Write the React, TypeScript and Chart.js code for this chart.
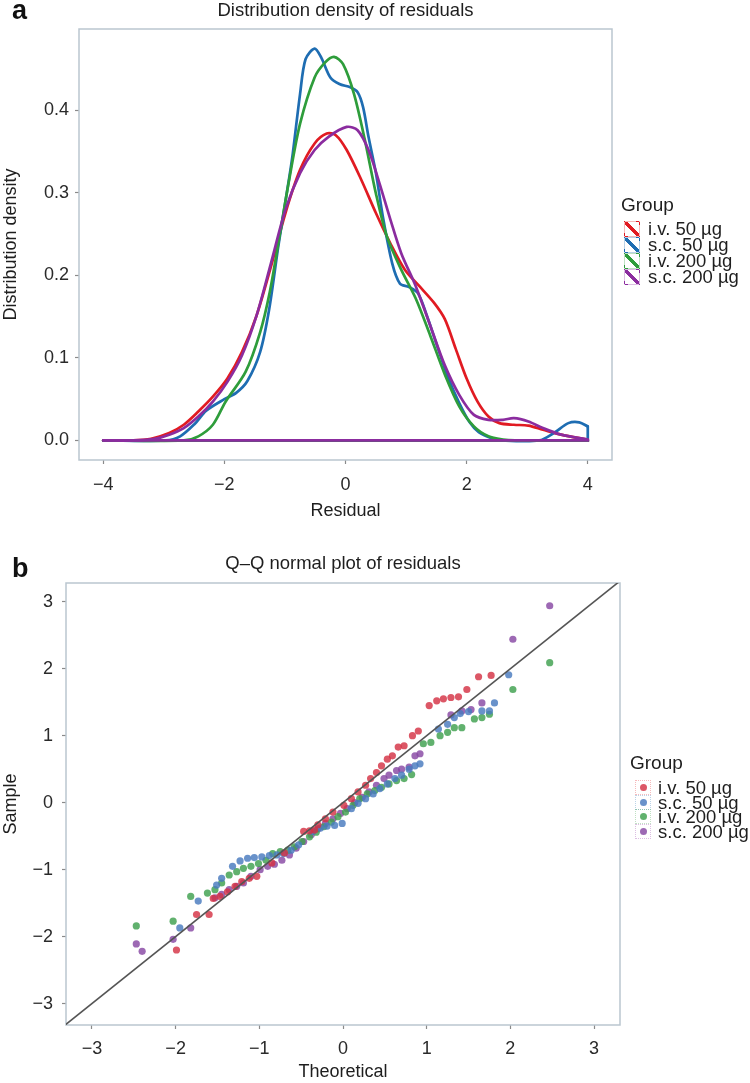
import React, { useEffect, useRef } from 'react';
import { Chart, registerables } from 'chart.js';

Chart.register(...registerables);

// ---------- shared ----------
const groups = ['i.v. 50 µg', 's.c. 50 µg', 'i.v. 200 µg', 's.c. 200 µg'];
const lineColors = ['#E11B22', '#1E6DB2', '#2E9D3B', '#8B2C9F'];
const pointColors = [
  'rgba(212,50,68,0.82)',
  'rgba(72,122,190,0.82)',
  'rgba(62,160,78,0.82)',
  'rgba(136,72,164,0.82)',
];
const FONT = "'Liberation Sans', Arial, Helvetica, sans-serif";

// ---------- panel a: density of residuals ----------
const densityRange = [-4, 4];

const iv50DensX = [-4, -3.5, -3.21, -2.91, -2.67, -2.43, -2.19, -1.95, -1.71, -1.47, -1.23, -0.99, -0.75, -0.51, -0.31, -0.16, 0.02, 0.26, 0.5, 0.74, 0.98, 1.22, 1.46, 1.64, 1.82, 2.0, 2.18, 2.36, 2.54, 2.78, 3.02, 3.26, 3.56, 4.0];
const iv50DensY = [0, 0, 0.002, 0.009, 0.019, 0.035, 0.053, 0.075, 0.107, 0.151, 0.211, 0.276, 0.328, 0.36, 0.372, 0.37, 0.352, 0.316, 0.276, 0.239, 0.207, 0.187, 0.167, 0.147, 0.111, 0.075, 0.047, 0.029, 0.021, 0.019, 0.018, 0.013, 0.007, 0.001];

const sc50DensX = [-4, -2.97, -2.73, -2.49, -2.3, -2.0, -1.8, -1.62, -1.41, -1.26, -1.11, -0.93, -0.87, -0.75, -0.66, -0.51, -0.4, -0.25, -0.1, 0.08, 0.2, 0.29, 0.38, 0.5, 0.62, 0.77, 0.9, 1.05, 1.2, 1.35, 1.52, 1.7, 1.88, 2.05, 2.2, 2.4, 2.6, 3.2, 3.44, 3.68, 3.86, 4.0];
const sc50DensY = [0, 0, 0.005, 0.02, 0.036, 0.05, 0.058, 0.072, 0.107, 0.159, 0.235, 0.318, 0.348, 0.42, 0.462, 0.475, 0.464, 0.44, 0.432, 0.428, 0.422, 0.404, 0.368, 0.325, 0.27, 0.215, 0.19, 0.186, 0.178, 0.15, 0.113, 0.075, 0.045, 0.022, 0.01, 0.003, 0, 0, 0.009, 0.021, 0.022, 0.017];

const iv200DensX = [-4, -2.67, -2.43, -2.19, -1.98, -1.65, -1.41, -1.25, -1.1, -0.93, -0.75, -0.51, -0.34, -0.19, -0.04, 0.14, 0.32, 0.5, 0.68, 0.92, 1.16, 1.4, 1.64, 1.88, 2.12, 2.36, 2.6, 2.8, 4.0];
const iv200DensY = [0, 0, 0.005, 0.019, 0.047, 0.083, 0.131, 0.18, 0.243, 0.316, 0.384, 0.44, 0.458, 0.465, 0.456, 0.42, 0.364, 0.3, 0.248, 0.207, 0.172, 0.127, 0.08, 0.041, 0.017, 0.005, 0.001, 0, 0];

const sc200DensX = [-4, -3.5, -3.15, -2.91, -2.67, -2.43, -2.19, -1.95, -1.71, -1.47, -1.23, -0.99, -0.75, -0.51, -0.28, 0.02, 0.2, 0.38, 0.56, 0.74, 0.92, 1.16, 1.4, 1.64, 1.88, 2.12, 2.36, 2.6, 2.78, 3.02, 3.26, 3.56, 4.0];
const sc200DensY = [0, 0, 0.002, 0.007, 0.015, 0.029, 0.047, 0.071, 0.103, 0.151, 0.215, 0.28, 0.324, 0.352, 0.368, 0.38, 0.376, 0.352, 0.312, 0.268, 0.227, 0.187, 0.139, 0.091, 0.055, 0.031, 0.025, 0.025, 0.027, 0.023, 0.015, 0.007, 0.001];

const aXTicks = [-4, -2, 0, 2, 4];
const aYTicks = [0, 0.1, 0.2, 0.3, 0.4];

// ---------- panel b: Q-Q plot ----------
const iv50QX = [1.77, 1.62, 1.48, 1.38, 1.29, 1.2, 1.12, 1.03, 0.9, 0.83, 0.73, 0.66, 0.59, 0.53, 0.46, 0.4, 0.33, 0.27, 0.18, 0.1, 0.01, -0.12, -0.21, -0.3, -0.34, -0.4, -0.47, -0.7, -0.85, -1.03, -1.12, -1.21, -1.29, -1.38, -1.47, -1.55, -1.6, -1.75, -1.99];
const iv50QY = [1.9, 1.88, 1.69, 1.58, 1.57, 1.55, 1.52, 1.45, 1.07, 1.0, 0.85, 0.83, 0.7, 0.65, 0.55, 0.45, 0.36, 0.26, 0.16, 0.06, -0.04, -0.14, -0.24, -0.33, -0.41, -0.42, -0.43, -0.75, -0.9, -1.1, -1.13, -1.18, -1.25, -1.33, -1.4, -1.43, -1.67, -1.67, -2.2];

const sc50QX = [1.98, 1.81, 1.75, 1.66, 1.5, 1.4, 1.33, 1.25, 1.14, 0.92, 0.86, 0.79, 0.7, 0.62, 0.53, 0.44, 0.36, 0.27, 0.18, 0.1, -0.01, -0.1, -0.19, -0.27, -0.36, -0.53, -0.62, -0.71, -0.79, -0.88, -0.97, -1.06, -1.14, -1.23, -1.32, -1.45, -1.51, -1.73, -1.95];
const sc50QY = [1.91, 1.49, 1.37, 1.37, 1.36, 1.33, 1.27, 1.17, 1.1, 0.58, 0.55, 0.5, 0.41, 0.36, 0.28, 0.21, 0.13, 0.06, -0.01, -0.09, -0.31, -0.34, -0.35, -0.38, -0.43, -0.63, -0.71, -0.76, -0.78, -0.79, -0.81, -0.82, -0.83, -0.87, -0.95, -1.13, -1.23, -1.47, -1.87];

const iv200QX = [2.47, 2.03, 1.75, 1.66, 1.57, 1.42, 1.33, 1.25, 1.16, 1.05, 0.96, 0.82, 0.73, 0.64, 0.55, 0.46, 0.38, 0.29, 0.2, 0.12, 0.03, -0.06, -0.14, -0.23, -0.32, -0.4, -0.49, -0.58, -0.66, -0.75, -0.84, -0.92, -1.01, -1.1, -1.19, -1.27, -1.36, -1.45, -1.53, -1.62, -1.82, -2.03, -2.47];
const iv200QY = [2.09, 1.69, 1.32, 1.27, 1.25, 1.12, 1.12, 1.05, 1.0, 0.9, 0.88, 0.42, 0.36, 0.33, 0.28, 0.23, 0.18, 0.13, 0.06, -0.04, -0.14, -0.21, -0.29, -0.36, -0.44, -0.51, -0.58, -0.66, -0.71, -0.73, -0.76, -0.86, -0.91, -0.95, -0.98, -1.03, -1.08, -1.2, -1.3, -1.35, -1.4, -1.77, -1.84];

const sc200QX = [2.47, 2.03, 1.66, 1.53, 1.42, 1.29, 0.92, 0.86, 0.79, 0.7, 0.64, 0.55, 0.49, 0.4, 0.31, 0.23, 0.14, 0.05, -0.03, -0.12, -0.21, -0.3, -0.38, -0.47, -0.56, -0.64, -0.73, -0.82, -0.9, -0.99, -1.1, -1.19, -1.27, -1.36, -1.45, -1.53, -1.82, -2.03, -2.4, -2.47];
const sc200QY = [2.94, 2.44, 1.49, 1.39, 1.37, 1.31, 0.73, 0.7, 0.53, 0.5, 0.48, 0.41, 0.36, 0.26, 0.16, 0.08, 0.0, -0.09, -0.16, -0.24, -0.31, -0.39, -0.48, -0.58, -0.68, -0.78, -0.86, -0.92, -0.95, -1.0, -1.1, -1.2, -1.25, -1.3, -1.37, -1.42, -1.87, -2.04, -2.22, -2.11];

const qqLineX = [-3.4, 3.4];
const bTicks = [-3, -2, -1, 0, 1, 2, 3];

// ---------- helpers ----------
const minus = (v: number, digits: number) => v.toFixed(digits).replace('-', '\u2212');
const pairs = (xs: number[], ys: number[]) => xs.map((x, i) => ({ x, y: ys[i] }));

const boxPlugin = {
  id: 'panelBox',
  beforeDatasetsDraw(chart: any) {
    const { ctx, chartArea: a } = chart;
    ctx.save();
    ctx.strokeStyle = '#BAC6CF';
    ctx.lineWidth = 1.5;
    ctx.strokeRect(a.left, a.top, a.right - a.left, a.bottom - a.top);
    ctx.restore();
  },
};

const tickFont = { family: FONT, size: 18 };
const titleFont = { family: FONT, size: 18 };

function axis(opts: any) {
  return {
    type: 'linear',
    min: opts.min,
    max: opts.max,
    afterFit: opts.fit,
    afterBuildTicks: (s: any) => {
      s.ticks = opts.ticks.map((v: number) => ({ value: v }));
    },
    ticks: {
      font: tickFont,
      color: '#2a2a2a',
      padding: opts.pad,
      maxRotation: 0,
      autoSkip: false,
      callback: (v: number) => minus(v, opts.digits),
    },
    grid: {
      color: 'rgba(0,0,0,0)',
      tickColor: '#8a8a8a',
      tickLength: 4,
      tickWidth: 1.2,
      drawTicks: true,
    },
    border: { display: false },
    title: {
      display: true,
      text: opts.title,
      font: titleFont,
      color: '#1e1e1e',
      padding: opts.titlePad,
    },
  };
}

export default function App() {
  const refA = useRef<HTMLCanvasElement>(null);
  const refB = useRef<HTMLCanvasElement>(null);

  useEffect(() => {
    const densSeries = [
      [iv50DensX, iv50DensY],
      [sc50DensX, sc50DensY],
      [iv200DensX, iv200DensY],
      [sc200DensX, sc200DensY],
    ];
    const curves = densSeries.map((s, i) => ({
      label: groups[i],
      data: pairs(s[0], s[1]),
      showLine: true,
      borderColor: lineColors[i],
      backgroundColor: lineColors[i],
      borderWidth: 2.7,
      pointRadius: 0,
      tension: 0.3,
      fill: false,
      borderJoinStyle: 'round',
      borderCapStyle: 'round',
      order: 10 - 2 * i,
    }));
    // closing outline of each density polygon: drop at right end, then baseline back to the left end
    const closings = densSeries.map((s, i) => {
      const n = s[0].length;
      return {
        label: groups[i] + ' outline',
        data: [
          { x: s[0][n - 1], y: s[1][n - 1] },
          { x: densityRange[1], y: 0 },
          { x: densityRange[0], y: 0 },
        ],
        showLine: true,
        borderColor: lineColors[i],
        borderWidth: 2.7,
        pointRadius: 0,
        tension: 0,
        fill: false,
        borderCapStyle: 'round',
        order: 9 - 2 * i,
      };
    });

    const chartA = new Chart(refA.current as HTMLCanvasElement, {
      type: 'scatter',
      data: { datasets: [...curves, ...closings] } as any,
      options: {
        responsive: false,
        animation: false,
        devicePixelRatio: 1,
        layout: { padding: { top: 29, right: 138, left: 0, bottom: 0 } },
        plugins: { legend: { display: false }, tooltip: { enabled: false } },
        scales: {
          x: axis({
            min: -4.4, max: 4.4, ticks: aXTicks, digits: 0, pad: 10,
            title: 'Residual', titlePad: { top: 0, bottom: 18 },
            fit: (s: any) => { s.height = 80; },
          }),
          y: axis({
            min: -0.0237, max: 0.4987, ticks: aYTicks, digits: 1, pad: 6,
            title: 'Distribution density', titlePad: { top: 0, bottom: 0 },
            fit: (s: any) => { s.width = 79; },
          }),
        },
      } as any,
      plugins: [boxPlugin],
    });

    const qqSeries = [
      [iv50QX, iv50QY],
      [sc50QX, sc50QY],
      [iv200QX, iv200QY],
      [sc200QX, sc200QY],
    ];
    const chartB = new Chart(refB.current as HTMLCanvasElement, {
      type: 'scatter',
      data: {
        datasets: [
          {
            label: 'reference',
            data: qqLineX.map((v) => ({ x: v, y: v })),
            showLine: true,
            borderColor: '#555555',
            borderWidth: 1.6,
            pointRadius: 0,
            order: 0,
          },
          ...qqSeries.map((s, i) => ({
            label: groups[i],
            data: pairs(s[0], s[1]),
            pointRadius: 3.6,
            pointBackgroundColor: pointColors[i],
            pointBorderWidth: 0,
            order: 1 + i,
          })),
        ],
      } as any,
      options: {
        responsive: false,
        animation: false,
        devicePixelRatio: 1,
        layout: { padding: { top: 43, right: 130, left: 0, bottom: 0 } },
        plugins: { legend: { display: false }, tooltip: { enabled: false } },
        scales: {
          x: axis({
            min: -3.31, max: 3.31, ticks: bTicks, digits: 0, pad: 9,
            title: 'Theoretical', titlePad: { top: 0, bottom: 0 },
            fit: (s: any) => { s.height = 58; },
          }),
          y: axis({
            min: -3.32, max: 3.28, ticks: bTicks, digits: 0, pad: 9,
            title: 'Sample', titlePad: { top: 0, bottom: 0 },
            fit: (s: any) => { s.width = 66; },
          }),
        },
      } as any,
      plugins: [boxPlugin],
    });

    return () => {
      chartA.destroy();
      chartB.destroy();
    };
  }, []);

  const text = (extra: React.CSSProperties): React.CSSProperties => ({
    position: 'absolute',
    fontFamily: FONT,
    fontSize: 18,
    lineHeight: '20px',
    color: '#1e1e1e',
    whiteSpace: 'nowrap',
    ...extra,
  });

  const faint = ['rgba(225,27,34,0.3)', 'rgba(30,109,178,0.3)', 'rgba(46,157,59,0.3)', 'rgba(139,44,159,0.3)'];

  return (
    <div style={{ position: 'absolute', left: 0, top: 0, width: 750, height: 1083, background: '#fff', overflow: 'hidden' }}>
      <canvas ref={refA} width={750} height={540} style={{ position: 'absolute', left: 0, top: 0, width: 750, height: 540 }} />
      <canvas ref={refB} width={750} height={543} style={{ position: 'absolute', left: 0, top: 540, width: 750, height: 543 }} />

      {/* panel letters and titles */}
      <div style={text({ left: 12, top: -3, fontSize: 27, lineHeight: '27px', fontWeight: 'bold', color: '#111' })}>a</div>
      <div style={text({ left: 79, width: 533, top: 0, textAlign: 'center', fontSize: 18.5 })}>Distribution density of residuals</div>
      <div style={text({ left: 12, top: 555, fontSize: 27, lineHeight: '27px', fontWeight: 'bold', color: '#111' })}>b</div>
      <div style={text({ left: 66, width: 554, top: 553, textAlign: 'center', fontSize: 18.5 })}>Q–Q normal plot of residuals</div>

      {/* legend a */}
      <div style={text({ left: 621, top: 195, fontSize: 19 })}>Group</div>
      {groups.map((g, i) => (
        <div key={'la' + g} style={{ position: 'absolute', left: 624, top: 221 + i * 16, height: 16, display: 'flex', alignItems: 'center' }}>
          <div
            style={{
              width: 16,
              height: 16,
              boxSizing: 'border-box',
              border: `1px solid ${faint[i]}`,
              background: `linear-gradient(to top right, transparent calc(50% - 1.7px), ${lineColors[i]} calc(50% - 1.7px), ${lineColors[i]} calc(50% + 1.7px), transparent calc(50% + 1.7px))`,
            }}
          />
          <span style={{ marginLeft: 8, fontFamily: FONT, fontSize: 18.5, lineHeight: '16px', color: '#1e1e1e', whiteSpace: 'nowrap' }}>{g}</span>
        </div>
      ))}

      {/* legend b */}
      <div style={text({ left: 630, top: 753, fontSize: 19 })}>Group</div>
      {groups.map((g, i) => (
        <div key={'lb' + g} style={{ position: 'absolute', left: 635, top: 780 + i * 14.7, height: 15, display: 'flex', alignItems: 'center' }}>
          <div
            style={{
              width: 16,
              height: 15,
              boxSizing: 'border-box',
              border: `1px dotted ${faint[i]}`,
              display: 'flex',
              alignItems: 'center',
              justifyContent: 'center',
            }}
          >
            <div style={{ width: 7, height: 7, borderRadius: '50%', background: pointColors[i] }} />
          </div>
          <span style={{ marginLeft: 7, fontFamily: FONT, fontSize: 18.5, lineHeight: '15px', color: '#1e1e1e', whiteSpace: 'nowrap' }}>{g}</span>
        </div>
      ))}
    </div>
  );
}
